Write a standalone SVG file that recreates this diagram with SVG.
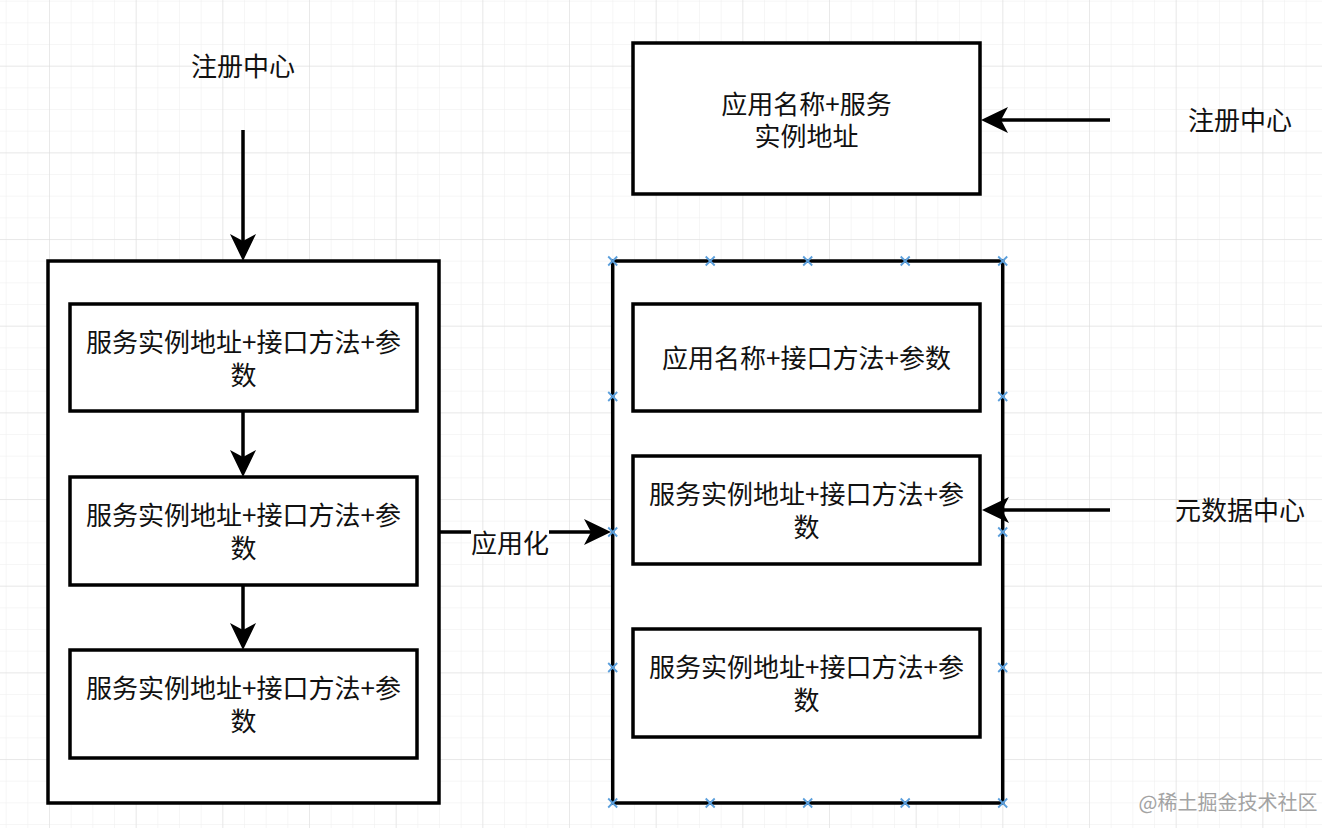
<svg xmlns="http://www.w3.org/2000/svg" width="1322" height="828" viewBox="0 0 1322 828">
<style>
  .box { fill: #ffffff; stroke: #000000; stroke-width: 3.5; }
  .edge { fill: none; stroke: #000000; stroke-width: 3.5; }
  .t { font-family: "Noto Sans CJK SC", "Liberation Sans", sans-serif; font-size: 26px; fill: #111111; text-anchor: middle; dominant-baseline: central; }
  .wm { font-family: "Noto Sans CJK SC", "Liberation Sans", sans-serif; font-size: 20px; fill: #a3a3a3; text-anchor: middle; dominant-baseline: central; }
  .pt { stroke: #5b9fdc; stroke-width: 1.8; fill: none; }
</style>
<defs>
  <pattern id="minor" patternUnits="userSpaceOnUse" x="49" y="65.7" width="21.667" height="21.667">
    <path d="M0,0 V21.667 M0,0 H21.667" stroke="#eeeeee" stroke-width="1" fill="none"/>
  </pattern>
  <pattern id="major" patternUnits="userSpaceOnUse" x="49" y="65.7" width="86.667" height="86.667">
    <path d="M0,0 V86.667 M0,0 H86.667" stroke="#dcdcdc" stroke-width="1" fill="none"/>
  </pattern>
  <marker id="arr" markerUnits="userSpaceOnUse" markerWidth="30" markerHeight="30" viewBox="0 0 30 30" refX="8" refY="15" orient="auto">
    <path d="M28,15 L1,2 L8,15 L1,28 Z" fill="#000000"/>
  </marker>
  <path id="xm" d="M-4.5,-4.5 L4.5,4.5 M-4.5,4.5 L4.5,-4.5"/>
</defs>
<rect width="1322" height="828" fill="#ffffff"/>
<rect width="1322" height="828" fill="url(#minor)"/>
<rect width="1322" height="828" fill="url(#major)"/>

<g id="label-registry-left"><text class="t" x="243" y="64">注册中心</text></g>

<g id="left-outer"><rect class="box" x="48" y="261" width="391" height="542"/></g>
<g id="left-box-1">
  <rect class="box" x="70" y="304" width="347" height="107"/>
  <text class="t" x="243.5" y="340">服务实例地址+接口方法+参<tspan x="243.5" dy="33">数</tspan></text>
</g>
<g id="left-box-2">
  <rect class="box" x="70" y="477" width="347" height="108"/>
  <text class="t" x="243.5" y="513">服务实例地址+接口方法+参<tspan x="243.5" dy="33">数</tspan></text>
</g>
<g id="left-box-3">
  <rect class="box" x="70" y="650" width="347" height="108"/>
  <text class="t" x="243.5" y="686">服务实例地址+接口方法+参<tspan x="243.5" dy="33">数</tspan></text>
</g>

<g id="right-top-box">
  <rect class="box" x="633" y="43" width="347" height="151"/>
  <text class="t" x="806.5" y="102">应用名称+服务<tspan x="806.5" dy="32">实例地址</tspan></text>
</g>
<g id="label-registry-right"><text class="t" x="1240" y="118">注册中心</text></g>
<g id="label-metadata"><text class="t" x="1240" y="508">元数据中心</text></g>

<g id="right-outer"><rect class="box" x="612.7" y="261" width="390" height="542"/></g>
<g id="right-box-1">
  <rect class="box" x="633" y="304" width="347" height="107"/>
  <text class="t" x="806.5" y="356">应用名称+接口方法+参数</text>
</g>
<g id="right-box-2">
  <rect class="box" x="633" y="456" width="347" height="108"/>
  <text class="t" x="806.5" y="492">服务实例地址+接口方法+参<tspan x="806.5" dy="33">数</tspan></text>
</g>
<g id="right-box-3">
  <rect class="box" x="633" y="629" width="347" height="108"/>
  <text class="t" x="806.5" y="665">服务实例地址+接口方法+参<tspan x="806.5" dy="33">数</tspan></text>
</g>

<g id="connectors">
  <line class="edge" x1="243" y1="130" x2="243" y2="241" marker-end="url(#arr)"/>
  <line class="edge" x1="243" y1="411" x2="243" y2="457" marker-end="url(#arr)"/>
  <line class="edge" x1="243" y1="585" x2="243" y2="630" marker-end="url(#arr)"/>
  <line class="edge" x1="439" y1="532" x2="591" y2="532" marker-end="url(#arr)"/>
  <line class="edge" x1="1110" y1="120" x2="1001" y2="120" marker-end="url(#arr)"/>
  <line class="edge" x1="1110" y1="510" x2="1002" y2="510" marker-end="url(#arr)"/>
  <rect x="471" y="530" width="78" height="26" fill="#ffffff"/>
  <text class="t" x="510" y="541">应用化</text>
</g>

<g id="selection-points" class="pt">
  <use href="#xm" x="612.7" y="261"/><use href="#xm" x="710.2" y="261"/><use href="#xm" x="807.7" y="261"/><use href="#xm" x="905.2" y="261"/><use href="#xm" x="1002.7" y="261"/>
  <use href="#xm" x="612.7" y="396.5"/><use href="#xm" x="612.7" y="532"/><use href="#xm" x="612.7" y="667.5"/>
  <use href="#xm" x="1002.7" y="396.5"/><use href="#xm" x="1002.7" y="532"/><use href="#xm" x="1002.7" y="667.5"/>
  <use href="#xm" x="612.7" y="803"/><use href="#xm" x="710.2" y="803"/><use href="#xm" x="807.7" y="803"/><use href="#xm" x="905.2" y="803"/><use href="#xm" x="1002.7" y="803"/>
</g>

<g id="watermark"><text class="wm" x="1228" y="801">@稀土掘金技术社区</text></g>
</svg>
